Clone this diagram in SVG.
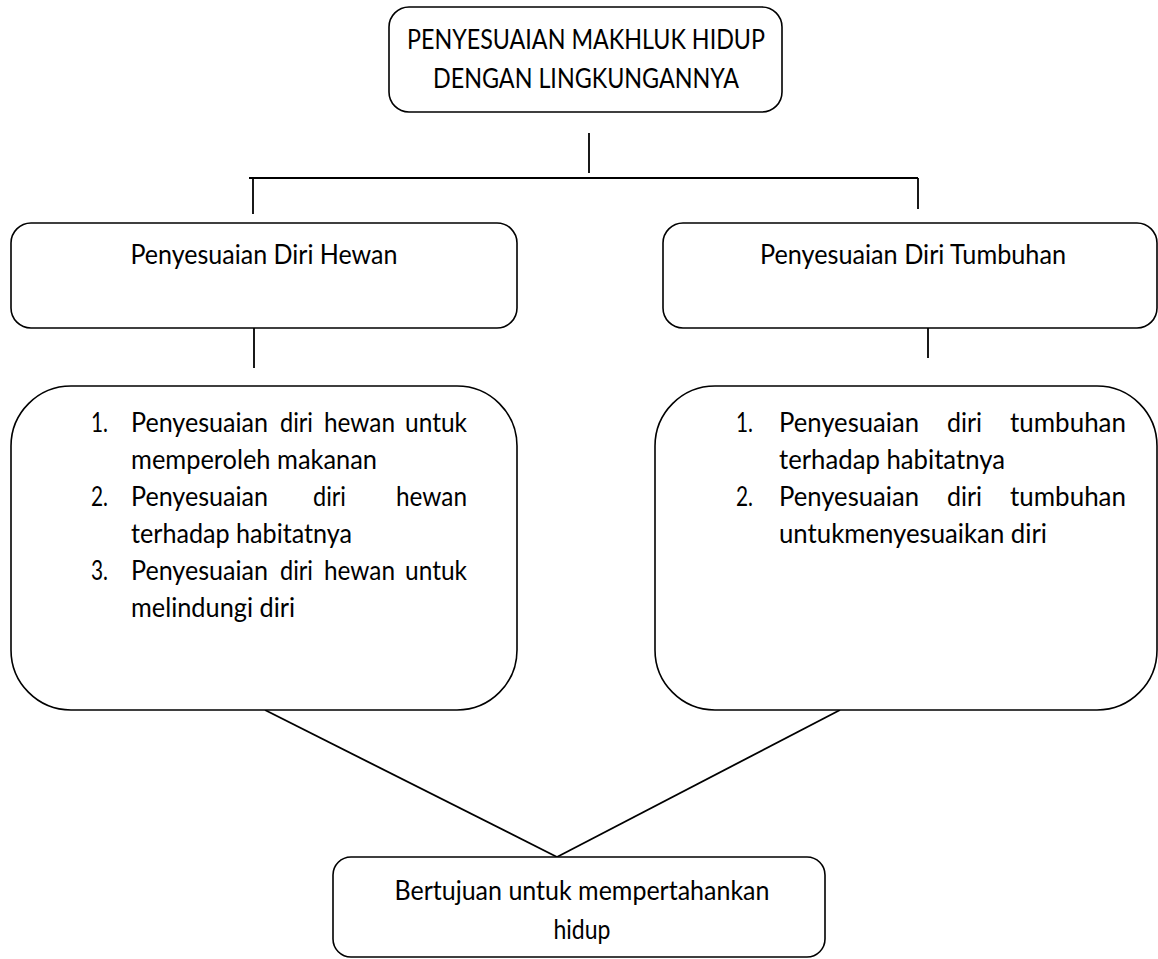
<svg xmlns="http://www.w3.org/2000/svg" width="1158" height="959" viewBox="0 0 1158 959">
<style>
.box{fill:#fff;stroke:#000;stroke-width:1.6}
.ln{stroke:#000;stroke-width:1.8;fill:none}
text{font-family:Lato,"Liberation Sans",sans-serif;font-size:27px;fill:#000}
.c{text-anchor:middle}
.e{text-anchor:end}
</style>
<rect width="1158" height="959" fill="#fff"/>
<g id="connectors">
<line class="ln" x1="589" y1="133" x2="589" y2="173"/>
<line class="ln" x1="249" y1="178" x2="918" y2="178"/>
<line class="ln" x1="253" y1="178" x2="253" y2="214"/>
<line class="ln" x1="918" y1="178" x2="918" y2="209"/>
<line class="ln" x1="254" y1="328" x2="254" y2="368"/>
<line class="ln" x1="928" y1="328" x2="928" y2="358"/>
<line class="ln" x1="265" y1="710" x2="557" y2="857"/>
<line class="ln" x1="840" y1="710" x2="557" y2="857"/>
</g>
<g id="top">
<rect class="box" x="389" y="7" width="393" height="105" rx="20"/>
<text class="c" x="586" y="49" textLength="358" lengthAdjust="spacingAndGlyphs">PENYESUAIAN MAKHLUK HIDUP</text>
<text class="c" x="586" y="88" textLength="306" lengthAdjust="spacingAndGlyphs">DENGAN LINGKUNGANNYA</text>
</g>
<g id="hewan">
<rect class="box" x="11" y="223" width="506" height="105" rx="20"/>
<text class="c" x="264" y="264" textLength="267" lengthAdjust="spacingAndGlyphs">Penyesuaian Diri Hewan</text>
</g>
<g id="tumbuhan">
<rect class="box" x="663" y="223" width="494" height="105" rx="20"/>
<text class="c" x="913" y="264" textLength="306" lengthAdjust="spacingAndGlyphs">Penyesuaian Diri Tumbuhan</text>
</g>
<g id="hewan-list">
<rect class="box" x="11" y="386" width="506" height="324" rx="60"/>
<text x="91" y="432" textLength="17" lengthAdjust="spacingAndGlyphs">1.</text>
<text x="131" y="432" textLength="137" lengthAdjust="spacingAndGlyphs">Penyesuaian</text>
<text x="280" y="432" textLength="33" lengthAdjust="spacingAndGlyphs">diri</text>
<text x="324" y="432" textLength="71" lengthAdjust="spacingAndGlyphs">hewan</text>
<text x="405" y="432" textLength="62" lengthAdjust="spacingAndGlyphs">untuk</text>
<text x="131" y="469" textLength="246" lengthAdjust="spacingAndGlyphs">memperoleh makanan</text>
<text x="91" y="506" textLength="17" lengthAdjust="spacingAndGlyphs">2.</text>
<text x="131" y="506" textLength="137" lengthAdjust="spacingAndGlyphs">Penyesuaian</text>
<text x="313" y="506" textLength="33" lengthAdjust="spacingAndGlyphs">diri</text>
<text x="396" y="506" textLength="71" lengthAdjust="spacingAndGlyphs">hewan</text>
<text x="131" y="543" textLength="221" lengthAdjust="spacingAndGlyphs">terhadap habitatnya</text>
<text x="91" y="580" textLength="17" lengthAdjust="spacingAndGlyphs">3.</text>
<text x="131" y="580" textLength="137" lengthAdjust="spacingAndGlyphs">Penyesuaian</text>
<text x="280" y="580" textLength="33" lengthAdjust="spacingAndGlyphs">diri</text>
<text x="324" y="580" textLength="71" lengthAdjust="spacingAndGlyphs">hewan</text>
<text x="405" y="580" textLength="62" lengthAdjust="spacingAndGlyphs">untuk</text>
<text x="131" y="617" textLength="164" lengthAdjust="spacingAndGlyphs">melindungi diri</text>
</g>
<g id="tumbuhan-list">
<rect class="box" x="655" y="386" width="502" height="324" rx="60"/>
<text x="736" y="432" textLength="17" lengthAdjust="spacingAndGlyphs">1.</text>
<text x="779" y="432" textLength="140" lengthAdjust="spacingAndGlyphs">Penyesuaian</text>
<text x="947" y="432" textLength="35" lengthAdjust="spacingAndGlyphs">diri</text>
<text x="1010" y="432" textLength="116" lengthAdjust="spacingAndGlyphs">tumbuhan</text>
<text x="779" y="469" textLength="226" lengthAdjust="spacingAndGlyphs">terhadap habitatnya</text>
<text x="736" y="506" textLength="17" lengthAdjust="spacingAndGlyphs">2.</text>
<text x="779" y="506" textLength="140" lengthAdjust="spacingAndGlyphs">Penyesuaian</text>
<text x="947" y="506" textLength="35" lengthAdjust="spacingAndGlyphs">diri</text>
<text x="1010" y="506" textLength="116" lengthAdjust="spacingAndGlyphs">tumbuhan</text>
<text x="779" y="543" textLength="268" lengthAdjust="spacingAndGlyphs">untukmenyesuaikan diri</text>
</g>
<g id="tujuan">
<rect class="box" x="333" y="857" width="492" height="100" rx="18"/>
<text class="c" x="582" y="900" textLength="375" lengthAdjust="spacingAndGlyphs">Bertujuan untuk mempertahankan</text>
<text class="c" x="582" y="939" textLength="57" lengthAdjust="spacingAndGlyphs">hidup</text>
</g>
</svg>
